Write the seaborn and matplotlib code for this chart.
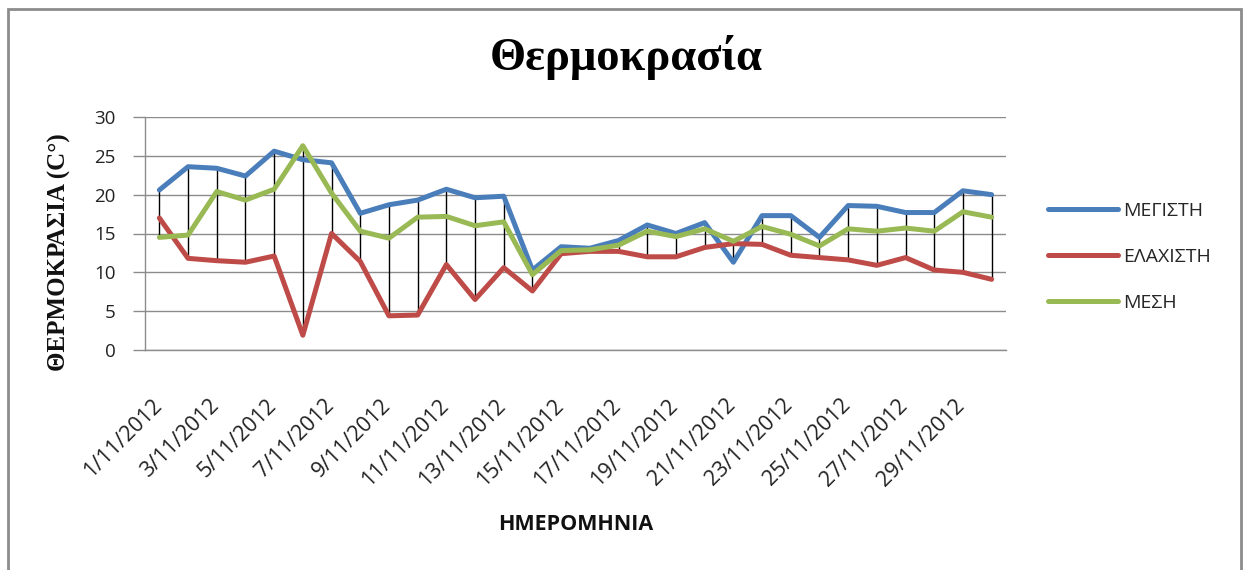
import numpy as np
import pandas as pd
import matplotlib
matplotlib.use("Agg")
import matplotlib.pyplot as plt
import matplotlib.transforms as mtransforms
from matplotlib.patches import Rectangle
from matplotlib.lines import Line2D
import seaborn as sns

# ---- data ----
dates = [f"{d}/11/2012" for d in range(1, 31)]
max_t = [20.6, 23.6, 23.4, 22.4, 25.6, 24.5, 24.1, 17.6, 18.7, 19.3,
         20.7, 19.6, 19.8, 10.3, 13.3, 13.1, 14.1, 16.1, 15.0, 16.4,
         11.3, 17.3, 17.3, 14.5, 18.6, 18.5, 17.7, 17.7, 20.5, 20.0]
min_t = [17.0, 11.8, 11.5, 11.3, 12.1, 1.9, 15.0, 11.4, 4.4, 4.5,
         11.0, 6.5, 10.6, 7.6, 12.4, 12.7, 12.7, 12.0, 12.0, 13.2,
         13.7, 13.6, 12.2, 11.9, 11.6, 10.9, 11.9, 10.3, 10.0, 9.1]
mean_t = [14.5, 14.8, 20.4, 19.3, 20.7, 26.3, 20.2, 15.3, 14.4, 17.1,
          17.2, 16.0, 16.5, 9.7, 12.8, 12.9, 13.5, 15.3, 14.6, 15.6,
          14.0, 15.9, 14.9, 13.4, 15.6, 15.3, 15.7, 15.3, 17.8, 17.1]
series_names = ["ΜΕΓΙΣΤΗ", "ΕΛΑΧΙΣΤΗ", "ΜΕΣΗ"]
colors = ["#4A7EBB", "#BE4B48", "#98B954"]
yticks = [0, 5, 10, 15, 20, 25, 30]

sns.set_theme(style="white")
sans = ["Open Sans", "DejaVu Sans"]
serif = ["Liberation Serif", "DejaVu Serif"]
plt.rcParams["font.family"] = sans

fig = plt.figure(figsize=(12.43, 5.70), dpi=100)
ax = fig.add_axes([145 / 1243, 1 - 350 / 570, (1006 - 145) / 1243, (350 - 117) / 570])

idx = np.arange(len(dates))
df = pd.DataFrame({
    "day": np.tile(idx, 3),
    "temp": np.concatenate([max_t, min_t, mean_t]),
    "series": np.repeat(series_names, len(dates)),
})

# high-low lines
hi = np.max([max_t, min_t, mean_t], axis=0)
lo = np.min([max_t, min_t, mean_t], axis=0)
ax.vlines(idx, lo, hi, color="black", linewidth=1.0, zorder=2)

sns.lineplot(data=df, x="day", y="temp", hue="series", hue_order=series_names,
             palette=colors, linewidth=3.6, ax=ax, legend=False, zorder=3)

ax.set_xlim(-0.5, len(dates) - 0.5)
ax.set_ylim(0, 30)
ax.set_yticks(yticks)
ax.set_yticklabels([str(v) for v in yticks], fontsize=13.5, color="#222222")
ax.yaxis.grid(True, color="#8C8C8C", linewidth=1.0)
ax.xaxis.grid(False)
for s in ["top", "right"]:
    ax.spines[s].set_visible(False)
for s in ["left", "bottom"]:
    ax.spines[s].set_color("#8C8C8C")
    ax.spines[s].set_linewidth(1.0)
ax.tick_params(axis="y", which="major", left=True, length=9, width=1.0,
               color="#8C8C8C", pad=12)

ax.set_xticks(idx[::2])
ax.set_xticklabels([dates[i] for i in idx[::2]], fontsize=15.5, color="#222222")
ax.tick_params(axis="x", bottom=False, pad=0)
offset = mtransforms.ScaledTranslation(-1 / 100, -44 / 100, fig.dpi_scale_trans)
for lab in ax.get_xticklabels():
    lab.set_rotation(45)
    lab.set_ha("right")
    lab.set_va("center")
    lab.set_rotation_mode("anchor")
    lab.set_transform(lab.get_transform() + offset)

ax.set_xlabel("")
ax.set_ylabel("")
fig.text(576 / 1243, 1 - 525 / 570, "ΗΜΕΡΟΜΗΝΙΑ", ha="center", va="center",
         fontsize=15.5, fontweight="bold", family=sans, color="#111111")
fig.text(59 / 1243, 1 - 252 / 570, "ΘΕΡΜΟΚΡΑΣΙΑ (C°)", ha="center", va="center",
         rotation=90, fontsize=18, fontweight="bold", family=serif, color="#111111")
fig.text(626 / 1243, 1 - 57 / 570, "Θερμοκρασία", ha="center", va="center",
         fontsize=33.5, fontweight="bold", family=serif, color="black")

handles = [Line2D([0], [0], color=c, linewidth=3.6) for c in colors]
fig.legend(handles, series_names, loc="center left",
           bbox_to_anchor=(1040 / 1243, 1 - 257 / 570), frameon=False,
           fontsize=14, handlelength=3.6, handletextpad=0.25, labelspacing=1.45,
           borderaxespad=0)

fig.patches.append(Rectangle((8 / 1243, -0.01), (1241 - 8) / 1243, 1.01 - 9 / 570,
                             transform=fig.transFigure, fill=False,
                             edgecolor="#8C8C8C", linewidth=2.0))

fig.savefig("out.png", dpi=100, facecolor="white")
